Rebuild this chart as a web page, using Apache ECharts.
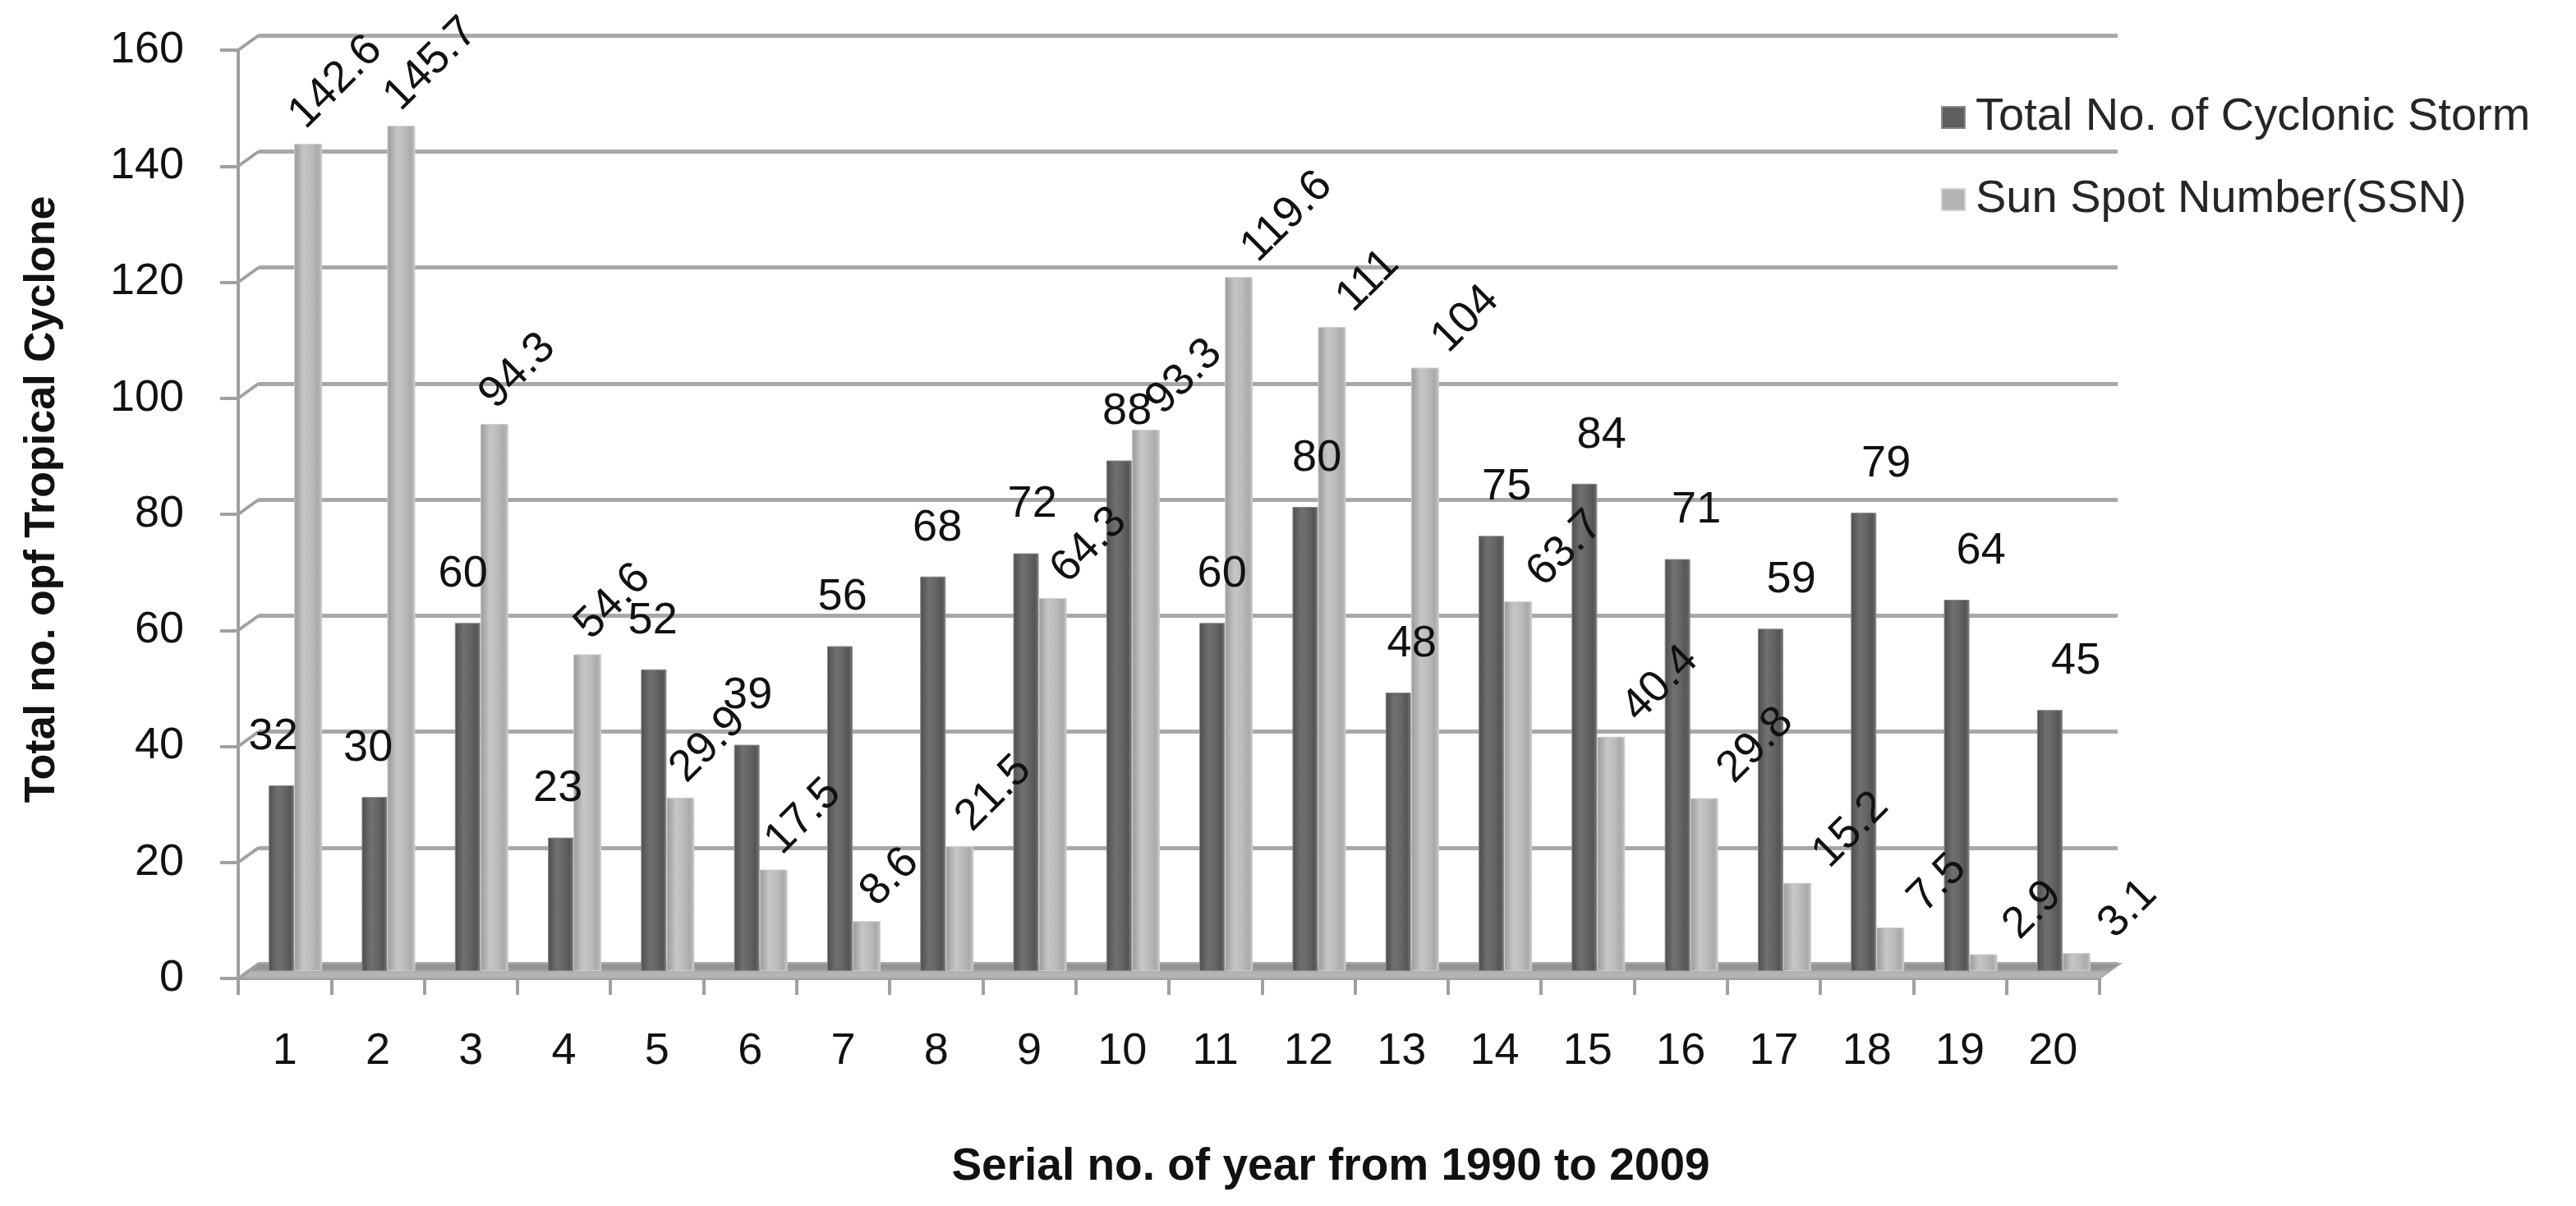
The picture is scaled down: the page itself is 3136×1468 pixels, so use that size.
<!DOCTYPE html>
<html>
<head>
<meta charset="utf-8">
<script src="https://cdn.jsdelivr.net/npm/echarts@6/dist/echarts.min.js"></script>
<style>
  html, body { margin: 0; padding: 0; background: #ffffff; }
  #chart { width: 3136px; height: 1468px; }
</style>
</head>
<body>
<div id="chart"></div>
<script>
// ---- data ----
const categories = ['1','2','3','4','5','6','7','8','9','10','11','12','13','14','15','16','17','18','19','20'];
const stormCounts = [32, 30, 60, 23, 52, 39, 56, 68, 72, 88, 60, 80, 48, 75, 84, 71, 59, 79, 64, 45];
const sunspotNumbers = [142.6, 145.7, 94.3, 54.6, 29.9, 17.5, 8.6, 21.5, 64.3, 93.3, 119.6, 111, 104, 63.7, 40.4, 29.8, 15.2, 7.5, 2.9, 3.1];
const yTicks = [0, 20, 40, 60, 80, 100, 120, 140, 160];
const seriesNames = ['Total No. of Cyclonic Storm', 'Sun Spot Number(SSN)'];
const xTitle = 'Serial no. of year from 1990 to 2009';
const yTitle = 'Total no. opf Tropical Cyclone';

// ---- style ----
const FONT = "'Liberation Sans', Arial, sans-serif";
const DEPTH_X = 25, DEPTH_Y = 18;
const FRONT = { left: 290, right: 580, top: 61, bottom: 277 };
const gridLineColor = '#a8a8a8';
const STORM_BAR_W = 31, SSN_BAR_W = 34;
// perspective drift of data labels across the categories (pixels per category)
const LABEL_DRIFT = 2.2;

const chart = echarts.init(document.getElementById('chart'), null, { renderer: 'canvas' });

function hGrad(stops) {
  return { type: 'linear', x: 0, y: 0, x2: 1, y2: 0,
    colorStops: stops.map(s => ({ offset: s[0], color: s[1] })) };
}

const stormItems = stormCounts.map((v, i) => ({
  value: v,
  label: { offset: [-10 + LABEL_DRIFT * i, 0] }
}));
const ssnItems = sunspotNumbers.map((v, i) => ({
  value: v,
  label: { position: [SSN_BAR_W / 2 - 14 + LABEL_DRIFT * 1.2 * i, -27] }
}));

const yAxisBase = { type: 'value', min: 0, max: 160, interval: 20 };

const option = {
  backgroundColor: '#ffffff',
  animation: false,
  textStyle: { fontFamily: FONT },
  legend: {
    orient: 'vertical',
    left: 2358,
    top: 110,
    itemGap: 44,
    itemWidth: 28,
    itemHeight: 26,
    icon: 'rect',
    textStyle: { fontSize: 56, color: '#262626', fontFamily: FONT, padding: [0, 0, 0, 8] },
    data: [
      { name: seriesNames[0], itemStyle: { color: '#5e5e5e' } },
      { name: seriesNames[1], itemStyle: { color: '#b4b4b4' } }
    ]
  },
  grid: [
    { left: FRONT.left, right: FRONT.right, top: FRONT.top, bottom: FRONT.bottom, containLabel: false },
    { left: FRONT.left + DEPTH_X, right: FRONT.right - DEPTH_X + 3, top: FRONT.top - DEPTH_Y, bottom: FRONT.bottom + DEPTH_Y, containLabel: false },
    { left: FRONT.left + 13, right: FRONT.right - 13, top: FRONT.top - 9, bottom: FRONT.bottom + 9, containLabel: false }
  ],
  xAxis: [
    {
      gridIndex: 0, type: 'category', data: categories, boundaryGap: true,
      axisLine: { show: true, lineStyle: { color: '#a0a0a0', width: 3 } },
      axisTick: { show: true, length: 20, lineStyle: { color: '#a0a0a0', width: 4 } },
      axisLabel: { fontSize: 54, color: '#111', margin: 62, fontFamily: FONT },
      name: xTitle, nameLocation: 'middle', nameGap: 202,
      nameTextStyle: { fontSize: 55, fontWeight: 'bold', color: '#111', fontFamily: FONT, padding: [0, 0, 0, 394] },
      splitLine: { show: false }
    },
    { gridIndex: 1, type: 'category', data: categories, show: false },
    { gridIndex: 2, type: 'category', data: categories, show: false }
  ],
  yAxis: [
    Object.assign({}, yAxisBase, {
      gridIndex: 0,
      axisLine: { show: true, lineStyle: { color: '#a0a0a0', width: 4 } },
      axisTick: { show: true, length: 22, lineStyle: { color: '#a0a0a0', width: 4 } },
      axisLabel: { fontSize: 54, color: '#111', margin: 66, fontFamily: FONT },
      splitLine: { show: false },
      name: yTitle, nameLocation: 'middle', nameGap: 212,
      nameTextStyle: { fontSize: 52, fontWeight: 'bold', color: '#111', fontFamily: FONT, padding: [0, 0, 0, 36] }
    }),
    Object.assign({}, yAxisBase, {
      gridIndex: 1,
      axisLine: { show: false }, axisTick: { show: false }, axisLabel: { show: false },
      splitLine: { show: true, lineStyle: { color: gridLineColor, width: 5 } }
    }),
    Object.assign({}, yAxisBase, {
      gridIndex: 2, show: false, splitLine: { show: false }
    })
  ],
  series: [
    // floor slab
    {
      type: 'custom', xAxisIndex: 0, yAxisIndex: 0, z: 1, silent: true,
      data: [[0, 0]],
      renderItem: function (params, api) {
        const cs = params.coordSys;
        const y0 = api.coord([0, api.value(1)])[1];
        const x0 = cs.x, x1 = cs.x + cs.width;
        return {
          type: 'polygon',
          shape: { points: [[x0, y0], [x1, y0], [x1 + DEPTH_X, y0 - DEPTH_Y], [x0 + DEPTH_X, y0 - DEPTH_Y]] },
          style: { fill: { type: 'linear', x: 0, y: 0, x2: 0, y2: 1,
            colorStops: [{ offset: 0, color: '#8c8c8c' }, { offset: 0.45, color: '#9a9a9a' }, { offset: 0.55, color: '#b2b2b2' }, { offset: 1, color: '#b8b8b8' }] },
            stroke: '#a6a6a6', lineWidth: 2 }
        };
      }
    },
    // diagonal connectors from front ticks to back wall
    {
      type: 'custom', xAxisIndex: 0, yAxisIndex: 0, z: 1, silent: true,
      data: yTicks.map(v => [0, v]),
      renderItem: function (params, api) {
        const cs = params.coordSys;
        const y = api.coord([0, api.value(1)])[1];
        return { type: 'line',
          shape: { x1: cs.x, y1: y, x2: cs.x + DEPTH_X, y2: y - DEPTH_Y },
          style: { stroke: '#a0a0a0', lineWidth: 4 } };
      }
    },
    {
      name: seriesNames[0], type: 'bar', xAxisIndex: 2, yAxisIndex: 2, z: 3,
      data: stormItems,
      barWidth: STORM_BAR_W, barGap: '0%',
      itemStyle: {
        color: hGrad([[0, '#4a4a4a'], [0.12, '#5a5a5a'], [0.35, '#707070'], [0.6, '#666666'], [0.85, '#555555'], [1, '#7a7a7a']]),
        borderColor: '#8a8a8a', borderWidth: 1
      },
      label: {
        show: true, position: 'top', distance: 32,
        fontSize: 54, color: '#111', fontFamily: FONT
      }
    },
    {
      name: seriesNames[1], type: 'bar', xAxisIndex: 2, yAxisIndex: 2, z: 3,
      data: ssnItems,
      barWidth: SSN_BAR_W, barGap: '0%',
      itemStyle: {
        color: hGrad([[0, '#9a9a9a'], [0.12, '#a8a8a8'], [0.35, '#c6c6c6'], [0.6, '#bcbcbc'], [0.85, '#aaaaaa'], [1, '#c8c8c8']]),
        borderColor: '#d0d0d0', borderWidth: 1
      },
      label: {
        show: true, rotate: 45,
        align: 'left', verticalAlign: 'middle',
        fontSize: 54, color: '#111', fontFamily: FONT
      }
    }
  ]
};

chart.setOption(option);
</script>
</body>
</html>
